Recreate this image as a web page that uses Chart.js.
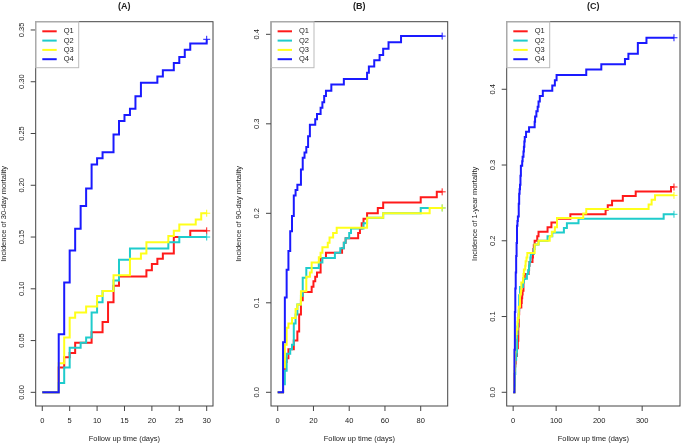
<!DOCTYPE html>
<html>
<head>
<meta charset="utf-8">
<script src="https://cdn.jsdelivr.net/npm/chart.js@4.4.1/dist/chart.umd.min.js"></script>
<style>
  html, body { margin: 0; padding: 0; background: #fff; }
  #wrap { position: relative; width: 685px; height: 444px; }
  #wrap canvas { position: absolute; left: 0; top: 0; }
</style>
</head>
<body>
<div id="wrap">
  <canvas id="chartA" width="685" height="444"></canvas>
  <canvas id="chartB" width="685" height="444"></canvas>
  <canvas id="chartC" width="685" height="444"></canvas>
</div>
<script>
// quartile groups and their colours
const QUARTILES = ['Q1', 'Q2', 'Q3', 'Q4'];
const COLORS = ['#ff1a1a', '#1fcccc', '#ffff1a', '#1a1aff'];

// (A) 30-day mortality, [day, cumulative incidence]
const q1_30 = [[0,0],[3,0.024],[4,0.034],[5,0.038],[6,0.048],[9,0.058],[11,0.068],[12,0.087],[13,0.103],[14,0.112],[19,0.118],[20,0.124],[21,0.129],[22,0.134],[24,0.150],[27,0.156],[30,0.156]];
const q2_30 = [[0,0],[3,0.009],[4,0.024],[5,0.043],[7,0.048],[8,0.053],[9,0.077],[10,0.087],[11,0.098],[13,0.108],[14,0.128],[16,0.139],[23,0.145],[25,0.150],[30,0.150]];
const q3_30 = [[0,0],[3,0.028],[4,0.053],[5,0.072],[6,0.077],[8,0.083],[10,0.093],[11,0.098],[13,0.113],[16,0.129],[18,0.134],[19,0.145],[23,0.151],[24,0.156],[25,0.162],[28,0.167],[29,0.173],[30,0.173]];
const q4_30 = [[0,0],[3,0.056],[4,0.106],[5,0.137],[6,0.158],[7,0.180],[8,0.197],[9,0.220],[10,0.226],[11,0.232],[13,0.249],[14,0.262],[15,0.268],[16,0.274],[17,0.286],[18,0.299],[21,0.305],[22,0.311],[24,0.318],[25,0.324],[26,0.331],[27,0.337],[30,0.341]];

// (B) 90-day mortality
const q1_90 = [[0,0],[3,0.024],[4,0.034],[5,0.038],[6,0.048],[9,0.058],[11,0.068],[12,0.087],[13,0.103],[14,0.112],[19,0.118],[20,0.124],[21,0.129],[22,0.134],[24,0.150],[27,0.156],[36,0.161],[37,0.167],[38,0.172],[45,0.178],[46,0.183],[47,0.189],[48,0.194],[50,0.200],[56,0.206],[59,0.212],[80,0.218],[89,0.224],[92,0.224]];
const q2_90 = [[0,0],[3,0.009],[4,0.024],[5,0.043],[7,0.048],[8,0.053],[9,0.077],[10,0.087],[11,0.098],[13,0.108],[14,0.128],[16,0.139],[23,0.145],[25,0.150],[32,0.156],[35,0.161],[37,0.167],[38,0.172],[40,0.178],[41,0.183],[48,0.189],[50,0.195],[59,0.200],[80,0.206],[92,0.206]];
const q3_90 = [[0,0],[3,0.028],[4,0.053],[5,0.072],[6,0.077],[8,0.083],[10,0.093],[11,0.098],[13,0.113],[16,0.129],[18,0.134],[19,0.145],[23,0.151],[24,0.156],[25,0.162],[28,0.167],[29,0.173],[31,0.178],[33,0.184],[50,0.195],[59,0.200],[85,0.206],[92,0.206]];
const q4_90 = [[0,0],[3,0.056],[4,0.106],[5,0.137],[6,0.158],[7,0.180],[8,0.197],[9,0.220],[10,0.226],[11,0.232],[13,0.249],[14,0.262],[15,0.268],[16,0.274],[17,0.286],[18,0.299],[21,0.305],[22,0.311],[24,0.318],[25,0.324],[26,0.331],[27,0.337],[30,0.344],[37,0.350],[50,0.357],[51,0.364],[54,0.371],[57,0.377],[59,0.384],[62,0.391],[69,0.398],[92,0.398]];

// (C) 1-year mortality
const q1_1y = [[0,0],[3,0.024],[4,0.034],[5,0.038],[6,0.048],[9,0.058],[11,0.068],[12,0.087],[13,0.103],[14,0.112],[19,0.118],[20,0.124],[21,0.129],[22,0.134],[24,0.150],[27,0.156],[36,0.161],[37,0.167],[38,0.172],[45,0.178],[46,0.183],[47,0.189],[48,0.194],[50,0.200],[56,0.206],[59,0.212],[80,0.218],[89,0.224],[102,0.229],[133,0.235],[215,0.241],[220,0.247],[230,0.253],[255,0.259],[285,0.265],[367,0.271],[374,0.271]];
const q2_1y = [[0,0],[3,0.009],[4,0.024],[5,0.043],[7,0.048],[8,0.053],[9,0.077],[10,0.087],[11,0.098],[13,0.108],[14,0.128],[16,0.139],[23,0.145],[25,0.150],[32,0.156],[35,0.161],[37,0.167],[38,0.172],[40,0.178],[41,0.183],[48,0.189],[50,0.195],[59,0.200],[80,0.206],[91,0.211],[118,0.217],[125,0.223],[152,0.229],[350,0.235],[374,0.235]];
const q3_1y = [[0,0],[3,0.028],[4,0.053],[5,0.072],[6,0.077],[8,0.083],[10,0.093],[11,0.098],[13,0.113],[16,0.129],[18,0.134],[19,0.145],[23,0.151],[24,0.156],[25,0.162],[28,0.167],[29,0.173],[31,0.178],[33,0.184],[50,0.195],[59,0.200],[85,0.206],[90,0.212],[97,0.218],[102,0.230],[163,0.236],[170,0.242],[315,0.248],[322,0.254],[330,0.260],[374,0.260]];
const q4_1y = [[0,0],[3,0.056],[4,0.106],[5,0.137],[6,0.158],[7,0.180],[8,0.197],[9,0.220],[10,0.226],[11,0.232],[13,0.249],[14,0.262],[15,0.268],[16,0.274],[17,0.286],[18,0.299],[21,0.305],[22,0.311],[24,0.318],[25,0.324],[26,0.331],[27,0.337],[30,0.344],[37,0.350],[50,0.357],[51,0.364],[54,0.371],[57,0.377],[59,0.384],[62,0.391],[69,0.398],[91,0.405],[97,0.412],[101,0.419],[170,0.426],[205,0.433],[260,0.440],[268,0.447],[290,0.461],[310,0.468],[374,0.468]];

// tick labels
const xTicks30 = [0, 5, 10, 15, 20, 25, 30];
const xTicks90 = [0, 20, 40, 60, 80];
const xTicks1y = [0, 100, 200, 300];
const yTicks30 = ['0.00', '0.05', '0.10', '0.15', '0.20', '0.25', '0.30', '0.35'];
const yTicks90 = ['0.0', '0.1', '0.2', '0.3', '0.4'];
const yTicks1y = ['0.0', '0.1', '0.2', '0.3', '0.4'];

const FONT = '"Liberation Sans", Arial, Helvetica, sans-serif';

// draws the R-style box, axes, titles and legend round the plot area
const rAxes = {
  id: 'rAxes',
  afterDraw(chart, args, o) {
    const { ctx, chartArea: a } = chart;
    const x = chart.scales.x, y = chart.scales.y;
    const cx = (a.left + a.right) / 2, cy = (a.top + a.bottom) / 2;
    ctx.save();

    ctx.strokeStyle = '#444';
    ctx.lineWidth = 1;
    ctx.strokeRect(a.left, a.top, a.right - a.left, a.bottom - a.top);

    ctx.fillStyle = '#222';
    ctx.font = '7.5px ' + FONT;
    ctx.textAlign = 'center';
    ctx.textBaseline = 'middle';

    o.xTicks.forEach(v => {
      const px = x.getPixelForValue(v);
      ctx.beginPath(); ctx.moveTo(px, a.bottom); ctx.lineTo(px, a.bottom + 5); ctx.stroke();
      ctx.fillText(String(v), px, a.bottom + 15);
    });
    ctx.fillText('Follow up time (days)', cx, a.bottom + 33);

    o.yTicks.forEach(lbl => {
      const py = y.getPixelForValue(parseFloat(lbl));
      ctx.beginPath(); ctx.moveTo(a.left - 5, py); ctx.lineTo(a.left, py); ctx.stroke();
      ctx.save();
      ctx.translate(a.left - 14, py);
      ctx.rotate(-Math.PI / 2);
      ctx.fillText(lbl, 0, 0);
      ctx.restore();
    });

    ctx.save();
    ctx.translate(a.left - 32, cy);
    ctx.rotate(-Math.PI / 2);
    ctx.fillText(o.yTitle, 0, 0);
    ctx.restore();

    ctx.font = 'bold 9px ' + FONT;
    ctx.fillText(o.title, cx, 6.5);

    // legend
    ctx.strokeStyle = '#bbb';
    ctx.strokeRect(a.left, a.top, 43, 46);
    ctx.font = '7.5px ' + FONT;
    ctx.textAlign = 'left';
    QUARTILES.forEach((q, i) => {
      const ly = a.top + 9.6 + i * 9.3;
      ctx.strokeStyle = COLORS[i];
      ctx.lineWidth = 2;
      ctx.beginPath(); ctx.moveTo(a.left + 6.6, ly); ctx.lineTo(a.left + 21, ly); ctx.stroke();
      ctx.fillStyle = '#222';
      ctx.fillText(q, a.left + 28, ly);
    });
    ctx.restore();
  }
};

function buildPanel(canvasId, series, p) {
  const datasets = [];
  series.forEach((s, i) => {
    datasets.push({
      label: QUARTILES[i],
      data: s.map(([t, v]) => ({ x: t, y: v })),
      borderColor: COLORS[i],
      borderWidth: 2,
      stepped: true,
      pointRadius: 0,
      fill: false,
      order: 10 - i
    });
    const last = s[s.length - 1];
    datasets.push({
      label: QUARTILES[i] + ' censored',
      data: [{ x: last[0], y: last[1] }],
      showLine: false,
      pointStyle: 'cross',
      pointRadius: 3.5,
      borderColor: COLORS[i],
      borderWidth: 1,
      order: 10 - i
    });
  });

  return new Chart(document.getElementById(canvasId), {
    type: 'line',
    data: { datasets },
    options: {
      responsive: false,
      animation: false,
      events: [],
      layout: { padding: p.padding },
      scales: {
        x: { type: 'linear', display: false, min: p.xMin, max: p.xMax },
        y: { type: 'linear', display: false, min: p.yMin, max: p.yMax }
      },
      plugins: {
        legend: { display: false },
        tooltip: { enabled: false },
        rAxes: { title: p.title, yTitle: p.yTitle, xTicks: p.xTicks, yTicks: p.yTicks }
      }
    },
    plugins: [rAxes]
  });
}

buildPanel('chartA', [q1_30, q2_30, q3_30, q4_30], {
  title: '(A)', yTitle: 'Incidence of 30-day mortality',
  xTicks: xTicks30, yTicks: yTicks30,
  xMin: -1.2, xMax: 31.15, yMin: -0.0132, yMax: 0.358,
  padding: { left: 35.7, top: 21.7, right: 472, bottom: 38 }
});
buildPanel('chartB', [q1_90, q2_90, q3_90, q4_90], {
  title: '(B)', yTitle: 'Incidence of 90-day mortality',
  xTicks: xTicks90, yTicks: yTicks90,
  xMin: -3.75, xMax: 95.1, yMin: -0.0153, yMax: 0.4141,
  padding: { left: 271, top: 21.7, right: 237.3, bottom: 38 }
});
buildPanel('chartC', [q1_1y, q2_1y, q3_1y, q4_1y], {
  title: '(C)', yTitle: 'Incidence of 1-year mortality',
  xTicks: xTicks1y, yTicks: yTicks1y,
  xMin: -15, xMax: 388, yMin: -0.0181, yMax: 0.4892,
  padding: { left: 506.7, top: 21.7, right: 1.3, bottom: 38 }
});
</script>
</body>
</html>
